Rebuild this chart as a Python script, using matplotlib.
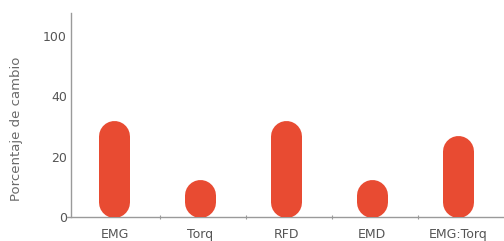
import numpy as np
import matplotlib
matplotlib.use("Agg")
import matplotlib.pyplot as plt

# Datos
categorias = ["EMG", "Torq", "RFD", "EMD", "EMG:Torq"]
cambio = [32, 12.5, 32, 12.5, 27]
marcas_y = [0, 20, 40, 100]

rojo = "#E84B32"
gris_eje = "#9a9a9a"
gris_txt = "#555555"

plt.rcParams["font.family"] = ["DejaVu Sans"]


# eje y partido: 0-40 lineal, luego 40-100 comprimido
def adelante(v):
    v = np.asarray(v, dtype=float)
    return np.where(v <= 40, v / 20.0, 2 + (v - 40) / 60.0)


def atras(p):
    p = np.asarray(p, dtype=float)
    return np.where(p <= 2, p * 20.0, 40 + (p - 2) * 60.0)


fig = plt.figure(figsize=(5.04, 2.41), dpi=100)
ax = fig.add_axes([71 / 504, 24 / 241, 433 / 504, 204 / 241])
ax.set_yscale("function", functions=(adelante, atras))
ax.set_ylim(0, float(atras(3.38)))
ax.set_xlim(-0.506, 4.534)

ancho_px = 31
radio_px = ancho_px / 2
x = np.arange(len(categorias))

# radio de la punta redondeada en unidades de datos
y0_px = ax.transData.transform((0, 0))[1]
inv = ax.transData.inverted()
for xi, v in zip(x, cambio):
    top_px = ax.transData.transform((0, v))[1]
    ya = inv.transform((0, y0_px + radio_px))[1]
    yb = inv.transform((0, top_px - radio_px))[1]
    if yb < ya:
        yb = ya
    ax.plot([xi, xi], [ya, yb], color=rojo, lw=ancho_px * 72 / 100,
            solid_capstyle="round", zorder=3)

ax.set_xticks(x)
ax.set_xticklabels(categorias)
ax.set_xticks(x[:-1] + 0.53, minor=True)
ax.set_yticks(marcas_y)
ax.set_yticklabels([str(m) for m in marcas_y])
ax.yaxis.set_minor_locator(matplotlib.ticker.NullLocator())

ax.tick_params(axis="x", which="major", length=0, pad=8.0, labelsize=9, labelcolor=gris_txt)
ax.tick_params(axis="x", which="minor", length=3, width=0.8, direction="inout", color=gris_eje)
ax.tick_params(axis="y", length=0, pad=3, labelsize=9, labelcolor=gris_txt)

for lado in ["top", "right"]:
    ax.spines[lado].set_visible(False)
for lado in ["left", "bottom"]:
    ax.spines[lado].set_color(gris_eje)
    ax.spines[lado].set_linewidth(1.0)
ax.spines["bottom"].set_bounds(-0.553, 4.534)

ax.set_ylabel("Porcentaje de cambio", fontsize=9.5, color="#6a6a6a")
ax.yaxis.set_label_coords(-0.112, 0.43)

fig.savefig("out.png", dpi=100)
